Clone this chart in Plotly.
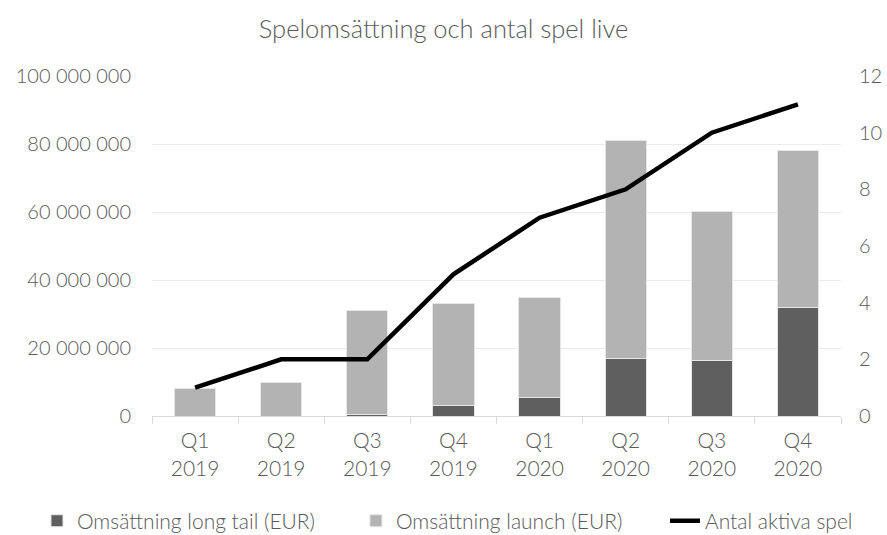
import plotly.graph_objects as go

categories = ["Q1<br>2019", "Q2<br>2019", "Q3<br>2019", "Q4<br>2019",
              "Q1<br>2020", "Q2<br>2020", "Q3<br>2020", "Q4<br>2020"]
long_tail = [0, 0, 500000, 3000000, 5500000, 17000000, 16200000, 32000000]
launch = [8000000, 10000000, 30500000, 30200000, 29500000, 64000000, 44000000, 46200000]
active_games = [1, 2, 2, 5, 7, 8, 10, 11]

FONT = "Lato"
TXT = "#595959"

fig = go.Figure()
fig.add_trace(go.Bar(x=categories, y=long_tail, name="Omsättning long tail (EUR)",
                     marker=dict(color="#5f5f5f", line=dict(color="#e6e6e6", width=1)),
                     yaxis="y", legend="legend"))
fig.add_trace(go.Bar(x=categories, y=launch, name="Omsättning launch (EUR)",
                     marker=dict(color="#b3b3b3", line=dict(color="#e6e6e6", width=1)),
                     yaxis="y", legend="legend2"))
fig.add_trace(go.Scatter(x=categories, y=active_games, name="Antal aktiva spel",
                         mode="lines", line=dict(color="black", width=4.5),
                         yaxis="y2", legend="legend3"))

def leg(xpos):
    return dict(orientation="h", xref="container", yref="container",
                x=xpos, xanchor="left", y=0.026, yanchor="middle",
                font=dict(size=21, color=TXT), bgcolor="rgba(0,0,0,0)")

fig.update_layout(
    width=887, height=535,
    barmode="stack", bargap=0.52,
    separators=", ",
    paper_bgcolor="white", plot_bgcolor="white",
    font=dict(family=FONT, size=20, color=TXT, weight=300),
    title=dict(text="Spelomsättning och antal spel live", x=0.5, xanchor="center",
               y=0.945, yanchor="middle",
               font=dict(family=FONT, size=25.5, color=TXT, weight=300)),
    margin=dict(l=152, r=46, t=76, b=119, autoexpand=False),
    xaxis=dict(type="category", tickson="boundaries", ticks="outside", ticklen=7,
               tickcolor="#d9d9d9", showline=True, linecolor="#d9d9d9", linewidth=1,
               showgrid=False, ticklabelstandoff=6, tickfont=dict(size=21, color=TXT)),
    yaxis=dict(range=[0, 100000000], dtick=20000000, tickformat=",d",
               showgrid=True, gridcolor="#ececec", gridwidth=1,
               zeroline=False, showline=False, ticks="", ticklabelstandoff=20,
               tickfont=dict(size=20, color=TXT)),
    yaxis2=dict(range=[0, 12], dtick=2, overlaying="y", side="right",
                showgrid=False, zeroline=False, showline=False, ticks="",
                ticklabelstandoff=17, tickfont=dict(size=20, color=TXT)),
    legend=leg(0.0417),
    legend2=leg(0.4013),
    legend3=leg(0.7497),
    showlegend=True,
)
fig.write_html("out.html", config={"displayModeBar": False},
               post_script="document.body.style.margin='0';")
